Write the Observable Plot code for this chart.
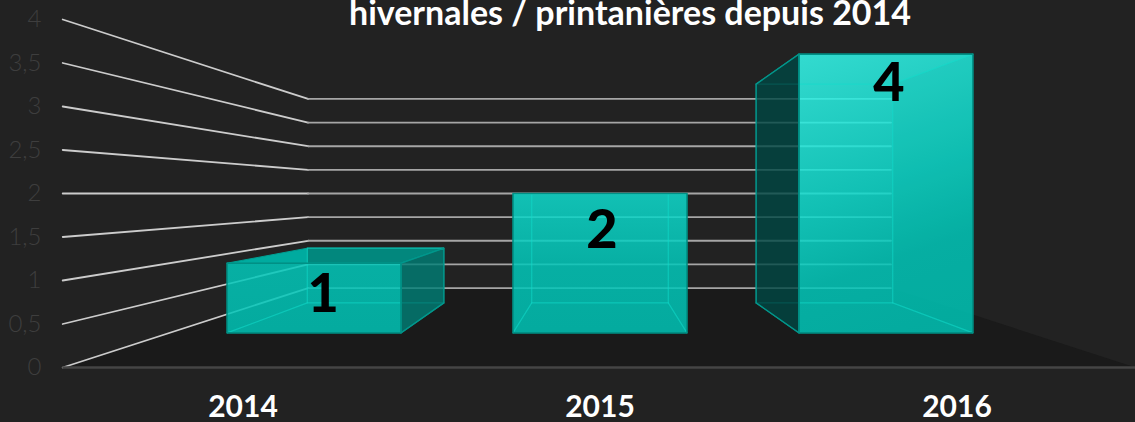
<!DOCTYPE html>
<html><head><meta charset="utf-8">
<style>html,body{margin:0;padding:0;background:#222222;overflow:hidden}</style>
<script src="https://cdn.jsdelivr.net/npm/d3@7"></script>
<script src="https://cdn.jsdelivr.net/npm/@observablehq/plot@0.6"></script>
</head><body><div id="chart"></div>
<script>
const titleText = "hivernales / printanières depuis 2014";
const categories = ["2014", "2015", "2016"];
const values = [1, 2, 4];
const gridValues = [0, 0.5, 1, 1.5, 2, 2.5, 3, 3.5, 4];

// Perspective: each depth scales data coordinates towards the vanishing point
const vanishX = 1, vanishY = 2;
const wallDepth = 0.5433, barFront = 0.801, barBack = 0.6287;
const halfBar = 0.3042, wallLeft = -0.505, wallRight = 2.5;
const project = (i, v, s) => ({x: vanishX + (i - vanishX) * s, y: vanishY + (v - vanishY) * s});
const poly = (id, pts) => [...pts, pts[0]].map(p => ({id, ...p}));

const floor = poly("floor", [project(wallLeft,0,1), project(wallLeft,0,wallDepth), project(wallRight,0,wallDepth), project(wallRight,0,1)]);
const walls = gridValues.flatMap(v => [project(wallLeft,v,1), project(wallLeft,v,wallDepth)].map(p => ({id:v, ...p})));
const backs = gridValues.flatMap(v => [project(wallLeft,v,wallDepth), project(wallRight,v,wallDepth)].map(p => ({id:v, ...p})));

const fronts = [], frontsTall = [], innerEdges = [], rightOuter = [], leftOuter = [], topOuter = [], brightFaces = [], tintFaces = [];
values.forEach((v, k) => {
  const L = k - halfBar, R = k + halfBar;
  const c = (x, val, s) => project(x, val, s);
  const fbl = c(L,0,barFront), fbr = c(R,0,barFront), ftl = c(L,v,barFront), ftr = c(R,v,barFront);
  const bbl = c(L,0,barBack), bbr = c(R,0,barBack), btl = c(L,v,barBack), btr = c(R,v,barBack);
  (v > vanishY ? frontsTall : fronts).push(...poly("f"+k, [ftl, ftr, fbr, fbl]));
  innerEdges.push(...poly("b"+k, [btl, btr, bbr, bbl]));
  innerEdges.push(...[fbl,bbl].map(p=>({id:"d1"+k,...p})), ...[fbr,bbr].map(p=>({id:"d2"+k,...p})));
  if (v > vanishY) innerEdges.push(...[ftl,btl].map(p=>({id:"d3"+k,...p})), ...[ftr,btr].map(p=>({id:"d4"+k,...p})));
  if (k < vanishX) { // right face seen from outside
    rightOuter.push(...poly("r"+k, [ftr, btr, bbr, fbr]));
  } else if (k > vanishX) { // left face seen from outside
    leftOuter.push(...poly("l"+k, [ftl, btl, bbl, fbl]));
    tintFaces.push(...poly("t"+k, [ftr, btr, bbr, fbr]));
  }
  if (v < vanishY) { // top face seen from outside
    const notch = {x: btl.x, y: ftl.y};
    topOuter.push(...poly("top"+k, [notch, btl, btr, ftr]));
    brightFaces.push(...poly("tri"+k, [ftl, btl, notch]));
  }
});

const labelNudgeX = [9, 2, 3], labelNudgeY = [32, 37, 30];
const labels = values.map((v,k) => ({k, v, ...project(k, v, barFront)}));
const font = "Lato, 'Open Sans', sans-serif";

const stops = `<stop offset="0" stop-color="#36fbee"/><stop offset="0.5" stop-color="#0fdcce"/>
    <stop offset="0.75" stop-color="#02c8ba"/><stop offset="1" stop-color="#00c4b6"/>`;
const defs = () => d3.create("svg:defs").html(`
  <linearGradient id="frontGrad" gradientUnits="userSpaceOnUse" x1="0" y1="50" x2="0" y2="335">${stops}</linearGradient>
  <linearGradient id="tallGrad" gradientUnits="userSpaceOnUse" x1="798" y1="54" x2="900" y2="335">${stops}</linearGradient>`).node();

const chart = Plot.plot({
  width: 1135, height: 422,
  marginLeft: 64, marginRight: 0, marginTop: 19, marginBottom: 55,
  style: {background: "#222222", overflow: "visible"},
  x: {domain: [-0.5, 2.5]},
  y: {domain: [0, 4]},
  marks: [
    defs,
    Plot.line(floor, {x:"x", y:"y", z:"id", fill:"#1a1a1a", stroke:"none"}),
    Plot.line(walls, {x:"x", y:"y", z:"id", stroke:"#cccccc", strokeWidth:1.8}),
    Plot.line(backs, {x:"x", y:"y", z:"id", stroke:"#a6a6a6", strokeWidth:1.8}),
    Plot.ruleY([0], {x1: wallLeft, x2: wallRight, stroke:"#454545", strokeWidth:2.5}),
    Plot.line(topOuter, {x:"x", y:"y", z:"id", fill:"#02877d", stroke:"#009a8e", strokeWidth:1.2}),
    Plot.line(brightFaces, {x:"x", y:"y", z:"id", fill:"#00ab9f", stroke:"#00a094", strokeWidth:1}),
    Plot.line(fronts, {x:"x", y:"y", z:"id", fill:"url(#frontGrad)", fillOpacity:0.85, stroke:"none"}),
    Plot.line(frontsTall, {x:"x", y:"y", z:"id", fill:"url(#tallGrad)", fillOpacity:0.85, stroke:"none"}),
    Plot.line(tintFaces, {x:"x", y:"y", z:"id", fill:"#00aca0", fillOpacity:0.12, stroke:"none"}),
    Plot.line(innerEdges, {x:"x", y:"y", z:"id", stroke:"#12dccc", strokeOpacity:0.55, strokeWidth:1.2}),
    Plot.line(rightOuter, {x:"x", y:"y", z:"id", fill:"#008077", fillOpacity:0.8, stroke:"#00978c", strokeWidth:1.3}),
    Plot.line(leftOuter, {x:"x", y:"y", z:"id", fill:"#004743", fillOpacity:0.8, stroke:"#00978c", strokeWidth:1.3}),
    Plot.line([...fronts, ...frontsTall], {x:"x", y:"y", z:"id", stroke:"#009085", strokeWidth:1.6}),
    Plot.axisY(gridValues, {anchor:"left", tickSize:0, tickPadding:23, tickFormat:d => String(d).replace(".", ","),
      fill:"#3e3e3e", fontSize:24, fontWeight:300, fontFamily:font, label:null}),
    Plot.axisX(values.map((_,i)=>i), {anchor:"bottom", tickSize:0, tickPadding:28, tickFormat:i => categories[i],
      fill:"#ffffff", fontSize:30, fontWeight:700, fontFamily:font, label:null}),
    ...labels.map((d,i) => Plot.text([d], {x:"x", y:"y", text:"v", dx:labelNudgeX[i], dy:labelNudgeY[i],
      fill:"#000000", fontSize:54, fontWeight:900, fontFamily:font})),
    Plot.text([titleText], {frameAnchor:"top", dx:30, dy:-5, fill:"#ffffff", fontSize:34, fontWeight:700, fontFamily:font, lineAnchor:"middle"})
  ]
});
document.getElementById("chart").append(chart);
</script></body></html>
